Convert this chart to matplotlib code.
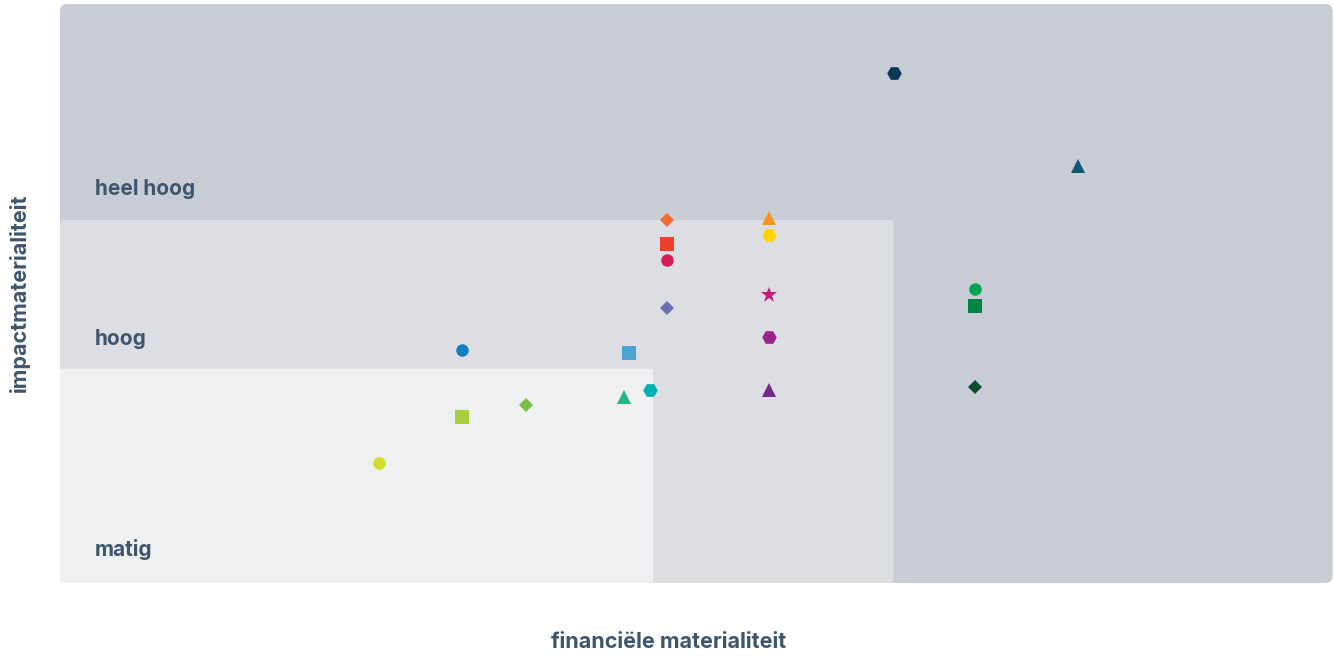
import matplotlib
matplotlib.use('Agg')
import matplotlib.pyplot as plt
from matplotlib.patches import FancyBboxPatch

# posities (financieel, impact) op schaal 0-100
fin_x = [25.1, 31.6, 31.6, 36.6, 44.3, 44.7, 46.4,
         47.7, 47.7, 47.7, 47.7,
         55.7, 55.7, 55.7, 55.7, 55.7,
         65.5, 80.0, 71.9, 71.9, 71.9]
impact_y = [20.7, 28.7, 40.2, 30.7, 32.1, 39.7, 33.3,
            62.7, 58.5, 55.8, 47.5,
            63.0, 60.1, 49.7, 42.5, 33.3,
            88.1, 72.0, 50.8, 47.8, 33.9]
markers = ['o', 's', 'o', 'D', '^', 's', 'H',
           'D', 's', 'o', 'D',
           '^', 'H', '*', 'H', '^',
           'H', '^', 'o', 's', 'D']
colors = ['#d3dc26', '#a5cf3b', '#137fc0', '#77c045', '#22b686', '#4ba4d2', '#00b1b0',
          '#f26b30', '#ef3e2c', '#d81a5a', '#6b71b0',
          '#f7951d', '#ffd400', '#c11f79', '#9c2387', '#77278b',
          '#083a58', '#0b5877', '#00a551', '#008543', '#0b4e2c']

zone_labels = ['heel hoog', 'hoog', 'matig']
zone_label_y = [68.0, 42.1, 5.8]

# zones: (breedte, hoogte, kleur, afronding)
zones = [(100, 100, '#c8ccd5', 0.55), (65.5, 62.7, '#dddee3', 0.3), (46.6, 37.0, '#eff0f2', 0.1)]

txt = '#3d566e'


def main():
    fig = plt.figure(figsize=(13.33, 6.56), dpi=100)
    ax = fig.add_axes([0.045, 0.1113, 0.9547, 0.8826])
    ax.set_xlim(0, 100)
    ax.set_ylim(0, 100)
    ax.axis('off')

    for w, h, c, r in zones:
        p = FancyBboxPatch((0, 0), w, h, boxstyle=f'round,pad=0,rounding_size={r}',
                           mutation_aspect=2.2, facecolor=c, edgecolor='none', zorder=1)
        ax.add_patch(p)

    for lab, yy in zip(zone_labels, zone_label_y):
        ax.text(2.75, yy, lab, fontsize=15, fontweight='bold', color=txt,
                family='Inter', va='center', ha='left', zorder=2)

    for x, y, m, c in zip(fin_x, impact_y, markers, colors):
        size = {'o': 9, 's': 9.5, 'D': 7, '^': 10, 'H': 10.5, '*': 12}[m]
        ax.plot(x, y, marker=m, markersize=size, color=c, linestyle='none',
                markeredgewidth=0, zorder=3)

    fig.text(669 / 1333, 1 - 642 / 656, 'financiële materialiteit', fontsize=15.5,
             fontweight='bold', color=txt, family='Inter', ha='center', va='center')
    fig.text(19 / 1333, 1 - 293 / 656, 'impactmaterialiteit', fontsize=15.5,
             fontweight='bold', color=txt, family='Inter', ha='center', va='center',
             rotation=90)

    fig.savefig('out.png', dpi=100, facecolor='white')


if __name__ == "__main__":
    main()
